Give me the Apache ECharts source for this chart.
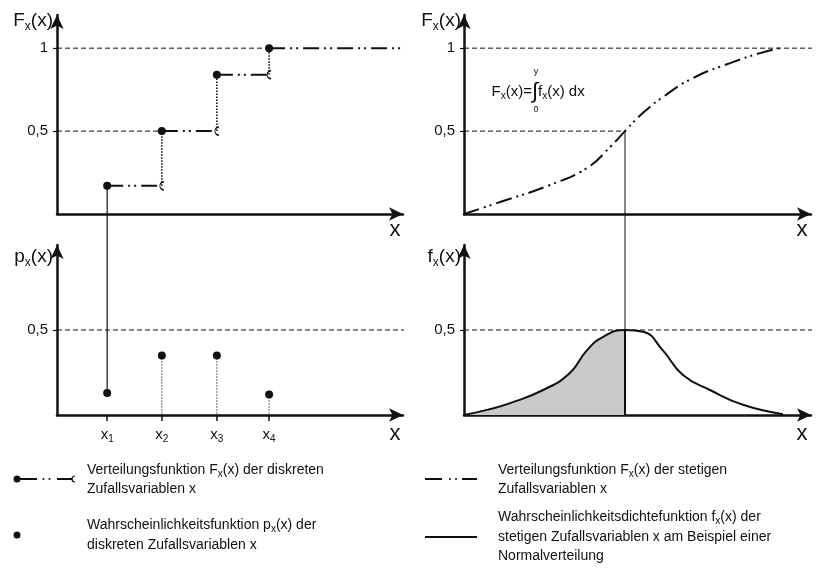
<!DOCTYPE html>
<html><head><meta charset="utf-8">
<script src="https://cdn.jsdelivr.net/npm/echarts@6/dist/echarts.min.js"></script>
<style>html,body{margin:0;padding:0;background:#fff}#c{width:823px;height:574px}</style>
</head><body><div id="c"></div>
<script>
// ---------------- data ----------------
const xSubs   = ['1', '2', '3', '4'];            // x_1 .. x_4
const xPos    = [14.5, 30.3, 46.2, 61.3];         // positions of x_i (0..100 scale)
const stepF   = [0.17, 0.5, 0.84, 1.0];           // discrete distribution function levels
const pmf     = [0.13, 0.35, 0.35, 0.12];         // discrete probabilities
const cdfX    = [0, 10.4, 24.8, 35.4, 42.1, 46.4, 51.6, 57.3, 66.0, 76.7, 85.3, 91.1];
const cdfY    = [0, 0.072, 0.175, 0.277, 0.404, 0.5, 0.61, 0.705, 0.82, 0.91, 0.97, 1.0];
const pdfX    = [0, 6.6, 13.3, 22.8, 30.5, 35.4, 40.1, 46.4, 51.6, 57.3, 63.1, 70.9, 80.4, 91.9];
const pdfY    = [0, 0.03, 0.07, 0.147, 0.247, 0.38, 0.46, 0.5, 0.49, 0.38, 0.235, 0.147, 0.06, 0.005];
const medianX = 46.4;
const yTicksTop = [0.5, 1];
const yTicksBottom = [0.5];

// ---------------- style ----------------
const INK = '#111111';
const FF = 'Liberation Sans, Arial, Helvetica, sans-serif';
const DASH = [5, 3];
const DASHDOT = [16, 5, 2, 4, 2, 5];
const SMOOTH = 0.5;

const chart = echarts.init(document.getElementById('c'), null, {renderer: 'canvas'});

const grids = [
  {left: 57,  top: 15,  width: 346, height: 199, outerBoundsMode: 'none'},   // 0 top-left
  {left: 464, top: 15,  width: 347, height: 199, outerBoundsMode: 'none'},   // 1 top-right
  {left: 57,  top: 245, width: 346, height: 170, outerBoundsMode: 'none'},   // 2 bottom-left
  {left: 464, top: 245, width: 347, height: 170, outerBoundsMode: 'none'}    // 3 bottom-right
];

const axisLine = {show: true, onZero: false, symbol: ['none', 'arrow'], symbolSize: [10, 14],
  lineStyle: {color: INK, width: 2.5}};

function xAx(gi, extra) {
  return Object.assign({gridIndex: gi, type: 'value', min: 0, max: 100, axisLine,
    axisTick: {show: false}, axisLabel: {show: false}, splitLine: {show: false}}, extra || {});
}
function yAx(gi, max, ticks) {
  return {gridIndex: gi, type: 'value', min: 0, max, axisLine,
    axisTick: {show: true, customValues: ticks, length: 4, lineStyle: {color: INK, width: 1.2}},
    axisLabel: {show: true, customValues: ticks, formatter: v => String(v).replace('.', ','),
      fontSize: 15, color: INK, fontFamily: FF, margin: 9},
    splitLine: {show: false}};
}

const xAxes = [
  xAx(0), xAx(1),
  xAx(2, {
    axisTick: {show: true, customValues: xPos, length: 6, inside: false, lineStyle: {color: INK, width: 1.5}},
    axisLabel: {show: true, customValues: xPos, margin: 11,
      formatter: v => { const i = xPos.indexOf(v); return '{m|x}{s|' + xSubs[i] + '}'; },
      rich: {m: {fontSize: 15, fontFamily: FF, color: INK, lineHeight: 18},
             s: {fontSize: 10, fontFamily: FF, color: INK, lineHeight: 10, verticalAlign: 'bottom'}}}
  }),
  xAx(3)
];
const yAxes = [yAx(0, 1.2, yTicksTop), yAx(1, 1.2, yTicksTop), yAx(2, 1.0, yTicksBottom), yAx(3, 1.0, yTicksBottom)];

const series = [];
function line(gi, data, style, opts) {
  series.push(Object.assign({type: 'line', xAxisIndex: gi, yAxisIndex: gi, data, symbol: 'none',
    silent: true, animation: false, clip: false,
    lineStyle: Object.assign({color: INK, width: 1}, style)}, opts || {}));
}
function dots(gi, data, opts) {
  series.push(Object.assign({type: 'scatter', xAxisIndex: gi, yAxisIndex: gi, data, symbol: 'circle',
    symbolSize: 8, silent: true, animation: false, clip: false, z: 5,
    itemStyle: {color: INK, opacity: 1}}, opts || {}));
}

// ---- top-left: discrete distribution function ----
line(0, [[0, 1], [xPos[3], 1]], {type: DASH, width: 1});
line(0, [[0, 0.5], [xPos[1], 0.5]], {type: DASH, width: 1});
for (let i = 0; i < 3; i++) {
  line(0, [[xPos[i], stepF[i]], [xPos[i + 1], stepF[i]]], {type: DASHDOT, width: 2});
  line(0, [[xPos[i + 1], stepF[i]], [xPos[i + 1], stepF[i + 1]]], {type: [1.5, 1.5], width: 1.6});
}
line(0, [[xPos[3], 1], [101.5, 1]], {type: DASHDOT, width: 2});
dots(0, xPos.map((x, i) => [x, stepF[i]]));
dots(0, [0, 1, 2].map(i => [xPos[i + 1], stepF[i]]), {
  symbol: 'path://M6,0 A6,6 0 0 0 6,12', symbolSize: [4, 8],
  itemStyle: {color: 'rgba(0,0,0,0)', borderColor: INK, borderWidth: 1.2, opacity: 1}});

// ---- bottom-left: probability function ----
line(2, [[0, 0.5], [102.9, 0.5]], {type: DASH, width: 1});
for (let i = 1; i < 4; i++) line(2, [[xPos[i], pmf[i]], [xPos[i], 0]], {type: [1, 2], width: 1.2});
dots(2, xPos.map((x, i) => [x, pmf[i]]));

// ---- top-right: continuous distribution function ----
line(1, [[0, 1], [102.5, 1]], {type: DASH, width: 1});
line(1, [[0, 0.5], [medianX, 0.5]], {type: DASH, width: 1});
line(1, cdfX.map((x, i) => [x, cdfY[i]]), {type: DASHDOT, width: 2}, {smooth: SMOOTH});

// ---- bottom-right: density ----
const pdf = pdfX.map((x, i) => [x, pdfY[i]]);
line(3, [[0, 0.5], [102.5, 0.5]], {type: DASH, width: 1});
line(3, pdf.filter(p => p[0] <= medianX), {width: 0, opacity: 0},
  {smooth: SMOOTH, areaStyle: {color: '#c8c9cb', opacity: 1}, z: 1});
line(3, pdf, {width: 2}, {smooth: SMOOTH, z: 3});
line(3, [[medianX, 0], [medianX, 0.5]], {width: 2}, {z: 3});

chart.setOption({
  animation: false,
  backgroundColor: '#ffffff',
  grid: grids, xAxis: xAxes, yAxis: yAxes, series
});

// ---------------- texts & legend (graphic) ----------------
const richBase = (size, sub) => ({
  m: {fontSize: size, fontFamily: FF, fill: INK, color: INK, lineHeight: Math.round(size * 1.25)},
  s: {fontSize: sub, fontFamily: FF, fill: INK, color: INK, lineHeight: sub, verticalAlign: 'bottom'}
});
function rtext(x, y, str, size, sub, align) {
  return {type: 'text', x, y, silent: true, z: 10,
    style: {text: str, rich: richBase(size, sub), align: align || 'left', verticalAlign: 'middle',
      fontSize: size, fontFamily: FF, fill: INK}};
}
function ptext(x, y, str, size, align) {
  return {type: 'text', x, y, silent: true, z: 10,
    style: {text: str, fontSize: size, fontFamily: FF, fill: INK, align: align || 'left', verticalAlign: 'middle'}};
}
function seg(x1, y1, x2, y2, w) {
  return {type: 'line', silent: true, z: 10, shape: {x1, y1, x2, y2}, style: {stroke: INK, lineWidth: w}};
}
function dot(cx, cy, r) {
  return {type: 'circle', silent: true, z: 10, shape: {cx, cy, r}, style: {fill: INK}};
}

const g = [];
// axis names
g.push(rtext(53, 21, '{m|F}{s|x}{m|(x)}', 19, 12, 'right'));
g.push(rtext(461, 21, '{m|F}{s|x}{m|(x)}', 19, 12, 'right'));
g.push(rtext(53, 257, '{m|p}{s|x}{m|(x)}', 19, 12, 'right'));
g.push(rtext(461, 257, '{m|f}{s|x}{m|(x)}', 19, 12, 'right'));
g.push(ptext(395, 230, 'x', 22, 'center'));
g.push(ptext(802, 230, 'x', 22, 'center'));
g.push(ptext(395, 434, 'x', 22, 'center'));
g.push(ptext(802, 434, 'x', 22, 'center'));

// formula
g.push(rtext(532, 92, '{m|F}{s|x}{m|(x)=}', 15, 10, 'right'));
g.push(ptext(535, 92, '∫', 22, 'center'));
g.push(rtext(538, 92, '{m|f}{s|x}{m|(x) dx}', 15, 10, 'left'));
g.push(ptext(536, 72, 'y', 9, 'center'));
g.push(ptext(536, 110, '0', 9, 'center'));

// legend item 1
g.push(dot(17, 479, 3.5));
g.push(seg(17, 479, 37, 479, 2));
g.push(dot(43.5, 479, 1));
g.push(dot(49.5, 479, 1));
g.push(seg(57, 479, 72, 479, 2));
g.push({type: 'arc', silent: true, z: 10,
  shape: {cx: 75, cy: 479, r: 3, startAngle: Math.PI / 2, endAngle: Math.PI * 1.5, clockwise: true},
  style: {stroke: INK, lineWidth: 1.2, fill: 'none'}});
g.push(rtext(87, 470, '{m|Verteilungsfunktion F}{s|x}{m|(x) der diskreten}', 14, 10));
g.push(ptext(87, 489, 'Zufallsvariablen x', 14));
// legend item 2
g.push(dot(17, 535, 3.5));
g.push(rtext(87, 525, '{m|Wahrscheinlichkeitsfunktion p}{s|x}{m|(x) der}', 14, 10));
g.push(ptext(87, 545, 'diskreten Zufallsvariablen x', 14));
// legend item 3
g.push(seg(425, 479, 442, 479, 2));
g.push(dot(450, 479, 1));
g.push(dot(456, 479, 1));
g.push(seg(462, 479, 477, 479, 2));
g.push(rtext(498, 470, '{m|Verteilungsfunktion F}{s|x}{m|(x) der stetigen}', 14, 10));
g.push(ptext(498, 489, 'Zufallsvariablen x', 14));
// legend item 4
g.push(seg(425, 537, 477, 537, 2));
g.push(rtext(498, 517, '{m|Wahrscheinlichkeitsdichtefunktion f}{s|x}{m|(x) der}', 14, 10));
g.push(ptext(498, 537, 'stetigen Zufallsvariablen x am Beispiel einer', 14));
g.push(ptext(498, 556, 'Normalverteilung', 14));

// connecting lines across panels, positioned through the axes' own scales
const a1 = chart.convertToPixel({gridIndex: 0}, [xPos[0], stepF[0]]);
const a2 = chart.convertToPixel({gridIndex: 2}, [xPos[0], pmf[0]]);
g.push(seg(a1[0], a1[1], a2[0], a2[1], 1.2));
const b1 = chart.convertToPixel({gridIndex: 1}, [medianX, 0.5]);
const b2 = chart.convertToPixel({gridIndex: 3}, [medianX, 0.5]);
g.push(seg(b1[0], b1[1], b2[0], b2[1], 1));

chart.setOption({graphic: g});
</script>
</body></html>
